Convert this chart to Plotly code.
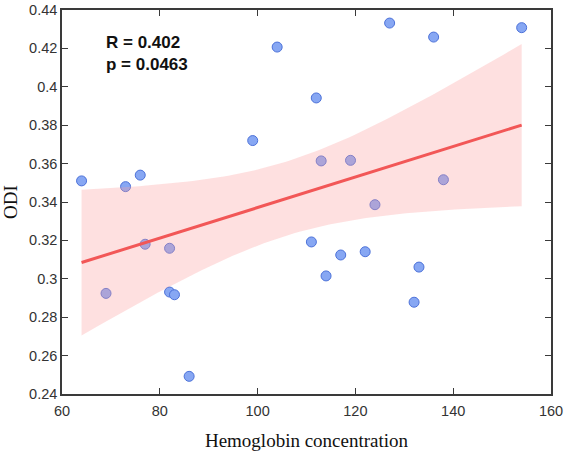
import numpy as np
import plotly.graph_objects as go

hemoglobin = [64, 73, 76, 99, 104, 112, 127, 136, 154, 113, 119, 124, 138,
              77, 82, 69, 82, 83, 86, 111, 114, 117, 122, 133, 132]
odi = [0.351, 0.348, 0.354, 0.372, 0.4207, 0.3942, 0.4332, 0.4259, 0.4308,
       0.3614, 0.3617, 0.3386, 0.3516, 0.318, 0.3159, 0.2924, 0.2931, 0.2917,
       0.2492, 0.3192, 0.3015, 0.3124, 0.3141, 0.3061, 0.2878]

x_ticks = [60, 80, 100, 120, 140, 160]
y_ticks = [0.24, 0.26, 0.28, 0.30, 0.32, 0.34, 0.36, 0.38, 0.40, 0.42, 0.44]
y_tick_labels = ["0.24", "0.26", "0.28", "0.3", "0.32", "0.34", "0.36", "0.38", "0.4", "0.42", "0.44"]

stats_text = "R = 0.402<br>p = 0.0463"
t_crit = 2.0687  # t(0.975, df=23)

# linear fit and 95% confidence band from the data
x = np.array(hemoglobin, dtype=float)
y = np.array(odi, dtype=float)
n = len(x)
b, a = np.polyfit(x, y, 1)
resid = y - (a + b * x)
s = np.sqrt(np.sum(resid ** 2) / (n - 2))
xs = np.linspace(x.min(), x.max(), 100)
ys = a + b * xs
se = s * np.sqrt(1 / n + (xs - x.mean()) ** 2 / np.sum((x - x.mean()) ** 2))
upper = ys + t_crit * se
lower = ys - t_crit * se

fig = go.Figure()
fig.add_trace(go.Scatter(
    x=hemoglobin, y=odi, mode="markers",
    marker=dict(size=10, color="#87a7f3", line=dict(color="#4d72d9", width=1)),
    showlegend=False, hoverinfo="skip"))
fig.add_trace(go.Scatter(
    x=np.concatenate([xs, xs[::-1]]), y=np.concatenate([upper, lower[::-1]]),
    fill="toself", fillcolor="rgba(252,160,160,0.32)", line=dict(width=0),
    mode="lines", showlegend=False, hoverinfo="skip"))
fig.add_trace(go.Scatter(
    x=xs, y=ys, mode="lines", line=dict(color="#f25757", width=3),
    showlegend=False, hoverinfo="skip"))

axis_common = dict(
    showline=True, linecolor="#3a3a3a", linewidth=1.5, mirror="ticks",
    ticks="inside", ticklen=6, tickwidth=1.2, tickcolor="#3a3a3a",
    showgrid=False, zeroline=False, automargin=False,
    tickfont=dict(family="Liberation Sans, Arial", size=14.5, color="#333333"),
)

fig.update_layout(
    width=567, height=454,
    margin=dict(l=62, r=16, t=10, b=60),
    paper_bgcolor="white", plot_bgcolor="white",
    xaxis=dict(range=[60, 160], tickvals=x_ticks, ticklabelstandoff=3, **axis_common,
               title=dict(text="Hemoglobin concentration", standoff=16,
                          font=dict(family="Liberation Serif, Times New Roman", size=19, color="#111111"))),
    yaxis=dict(range=[0.24, 0.44], tickvals=y_ticks, ticktext=y_tick_labels, **axis_common,
               title=dict(text="ODI", standoff=6,
                          font=dict(family="Liberation Serif, Times New Roman", size=19, color="#111111"))),
    annotations=[dict(x=0.085, y=0.945, xref="paper", yref="paper", text=stats_text,
                      showarrow=False, xanchor="left", yanchor="top", align="left",
                      font=dict(family="Liberation Sans, Arial", size=17, color="#111111", weight="bold"))],
)

fig.write_html("out.html")
